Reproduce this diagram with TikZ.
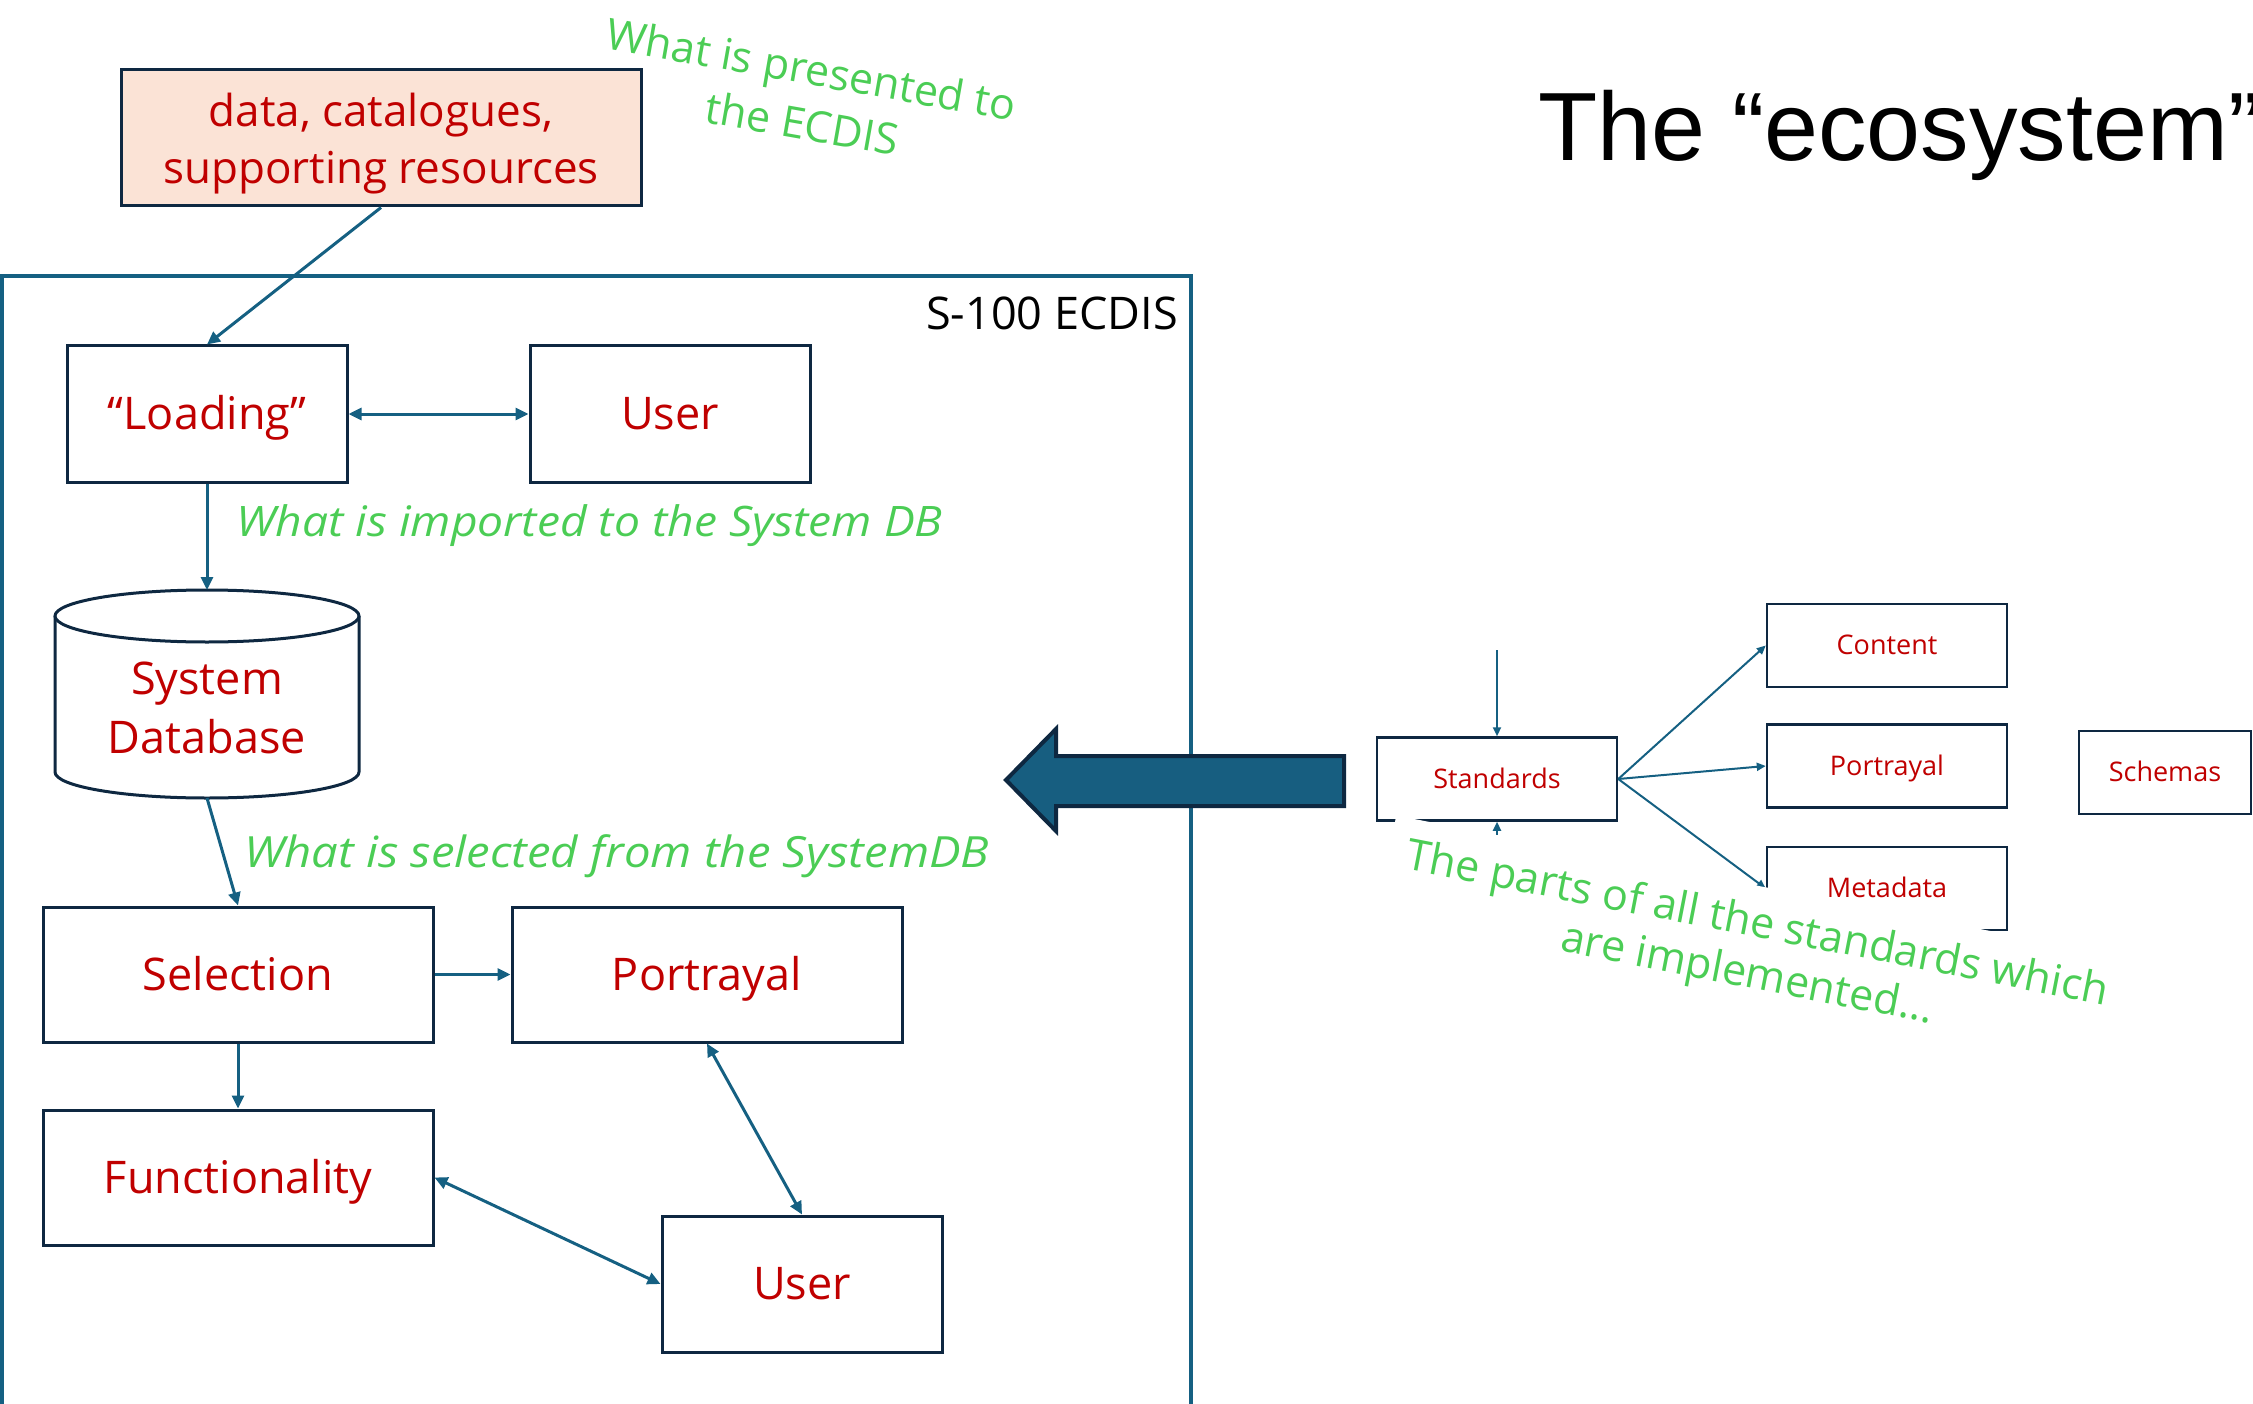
\documentclass[tikz,border=0pt]{standalone}
\usepackage{fontspec}
\setmainfont{Open Sans}
\newfontfamily\titlefont{Liberation Sans}
\newfontfamily\widenote[FakeStretch=1.1]{Open Sans}
\usetikzlibrary{arrows.meta}

\definecolor{boxline}{HTML}{0E2841}
\definecolor{linkblue}{HTML}{156082}
\definecolor{textred}{HTML}{C00000}
\definecolor{notegreen}{RGB}{75,205,85}
\definecolor{datafill}{HTML}{FBE3D6}
\definecolor{arrowfill}{HTML}{175E80}

\begin{document}
\begin{tikzpicture}[x=1pt,y=-1pt,
  box/.style={draw=boxline, line width=3pt, fill=white, minimum width=280pt,
    minimum height=136pt, inner sep=0pt, text=textred, align=center,
    text height=34pt, text depth=3pt,
    font=\fontsize{45}{57}\selectfont},
  widebox/.style={box, minimum width=390pt, minimum height=135pt},
  smallbox/.style={draw=boxline, line width=2.5pt, fill=white, minimum width=240pt,
    minimum height=83pt, inner sep=0pt, text=textred,
    text height=20pt, text depth=2pt,
    font=\fontsize{27}{32}\selectfont},
  link/.style={draw=linkblue, line width=3pt, -{Triangle[length=13pt,width=12pt]}},
  twoway/.style={draw=linkblue, line width=3pt,
    {Triangle[length=13pt,width=12pt]}-{Triangle[length=13pt,width=12pt]}},
  thinlink/.style={draw=linkblue, line width=2pt, -{Triangle[length=9pt,width=8pt]}},
  note/.style={text=notegreen, inner sep=0pt, font=\fontsize{43}{51}\selectfont},
  slantnote/.style={note, font=\widenote\itshape\fontsize{42}{50}\selectfont}
]
\useasboundingbox (0,0) rectangle (2253,1404);
\clip (0,0) rectangle (2253,1404);

% S-100 ECDIS frame
\draw[linkblue, line width=3.5pt] (2,276) rectangle (1191,1440);
\node[anchor=base east, inner sep=0pt, font=\fontsize{45}{52}\selectfont] (ecdis) at (1178,330) {S-100 ECDIS};

% Title
\node[anchor=base west, inner sep=0pt, font=\titlefont\fontsize{97}{110}\selectfont] (title) at (1538,161) {The “ecosystem”};

% Input resources
\node[draw=boxline, line width=3pt, fill=datafill, minimum width=520pt, minimum height=136pt,
  inner sep=0pt] (data) at (381,138) {};
\node[text=textred, align=center, inner sep=0pt,
  font=\fontsize{44}{57}\selectfont] (datatext) at (381,144) {data, catalogues,\\supporting resources};
\node[note, rotate=-10, align=center, font=\fontsize{43}{55}\selectfont] (presented) at (807,96) {What is presented to\\the ECDIS};

% Loading stage
\node[box] (loading) at (207,414) {“Loading”};
\node[box] (user1) at (670,414) {User};
\draw[link] (data.south) -- (loading.north);
\draw[twoway] (loading.east) -- (user1.west);

% System database cylinder
\coordinate (dbtop) at (207,590);
\coordinate (dbbot) at (207,798);
\draw[boxline, line width=3pt, fill=white] (55,616) -- (55,772)
  arc[start angle=180, end angle=0, x radius=152, y radius=26] -- (359,616);
\draw[boxline, line width=3pt, fill=white] (207,616) ellipse[x radius=152, y radius=26];
\node[text=textred, align=center, inner sep=0pt, font=\fontsize{45}{59}\selectfont] (db) at (207,708) {System\\Database};

\draw[link] (loading.south) -- (dbtop);
\node[slantnote, anchor=base west] (imported) at (236,536) {What is imported to the System DB};

% Selection, portrayal and functionality
\node[widebox] (selection) at (238,974.5) {Selection};
\node[widebox] (portrayal) at (707,974.5) {Portrayal};
\node[widebox] (functionality) at (238,1177.5) {Functionality};
\node[box] (user2) at (802,1284) {User};

\draw[link] (dbbot) -- (selection.north);
\node[slantnote, anchor=base west, font=\widenote\itshape\fontsize{43}{50}\selectfont] (selected) at (244,867) {What is selected from the SystemDB};
\draw[link] (selection.east) -- (portrayal.west);
\draw[link] (selection.south) -- (functionality.north);
\draw[twoway] (portrayal.south) -- (user2.north);
\draw[twoway] (functionality.east) -- (user2.west);

% Block arrow from the standards into the ECDIS
\draw[fill=arrowfill, draw=boxline, line width=4pt, line join=miter]
  (1006,780) -- (1056,729) -- (1056,756) -- (1344,756) -- (1344,806)
  -- (1056,806) -- (1056,831) -- cycle;

% Standards and their parts
\node[smallbox] (standards) at (1497,779) {Standards};
\node[smallbox] (content) at (1887,645.5) {Content};
\node[smallbox] (portrayal2) at (1887,766) {Portrayal};
\node[smallbox] (metadata) at (1887,888.5) {Metadata};
\node[smallbox, minimum width=172pt] (schemas) at (2165,772.5) {Schemas};

\coordinate (stdin) at (1497,650);
\coordinate (stdbelow) at (1497,905);
\draw[thinlink] (stdin) -- (standards.north);
\draw[thinlink] (stdbelow) -- (standards.south);
\draw[thinlink] (standards.east) -- (content.west);
\draw[thinlink] (standards.east) -- (portrayal2.west);
\draw[thinlink] (standards.east) -- (metadata.west);

\node[note, fill=white, rotate=-11, align=center, inner sep=18pt] (parts) at (1752,951)
  {The parts of all the standards which\\are implemented...};
\end{tikzpicture}
\end{document}
